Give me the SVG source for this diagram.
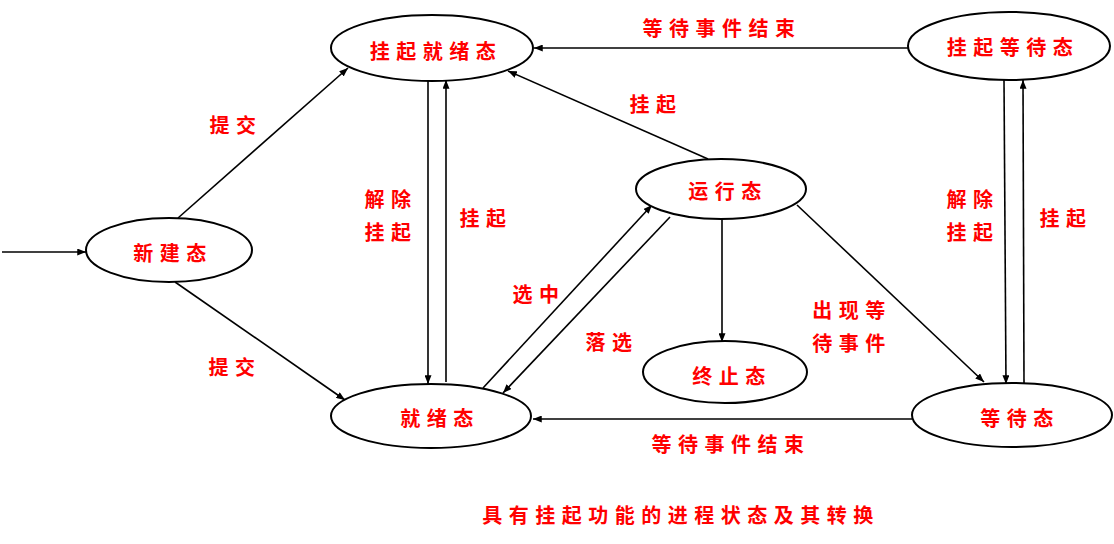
<svg xmlns="http://www.w3.org/2000/svg" width="1114" height="544" viewBox="0 0 1114 544">
<defs>
<marker id="ah" viewBox="0 0 10 8" refX="10" refY="4" markerWidth="9" markerHeight="7" markerUnits="userSpaceOnUse" orient="auto">
<path d="M0,0 L10,4 L0,8 Z" fill="#000"/>
</marker>
<style>
.node ellipse{fill:#fff;stroke:#000;stroke-width:2}
.lbl{font-family:"Noto Sans CJK SC","Noto Sans CJK JP",sans-serif;font-size:20px;font-weight:bold;fill:#ff0000;letter-spacing:6.5px;text-anchor:middle;dominant-baseline:central}
#connectors line{stroke:#000;stroke-width:1.6;fill:none;marker-end:url(#ah)}
</style>
</defs>
<rect width="1114" height="544" fill="#fff"/>
<g id="connectors">
<line x1="2" y1="252" x2="86" y2="252"/>
<line x1="178" y1="218" x2="348" y2="68"/>
<line x1="175" y1="282" x2="345" y2="400"/>
<line x1="428" y1="80" x2="428" y2="384"/>
<line x1="446" y1="382" x2="446" y2="80"/>
<line x1="483" y1="388" x2="652" y2="205"/>
<line x1="670" y1="217" x2="503" y2="393"/>
<line x1="708" y1="159" x2="508" y2="71"/>
<line x1="722" y1="219" x2="722" y2="342"/>
<line x1="797" y1="205" x2="984" y2="382"/>
<line x1="912" y1="419" x2="533" y2="419"/>
<line x1="908" y1="48" x2="534" y2="48"/>
<line x1="1004" y1="80" x2="1006" y2="384"/>
<line x1="1024" y1="383" x2="1023" y2="80"/>
</g>
<g id="n-guaqijiuxu" class="node"><ellipse cx="432" cy="48" rx="101" ry="33"/><text class="lbl" x="436" y="50">挂起就绪态</text></g>
<g id="n-guaqidengdai" class="node"><ellipse cx="1009" cy="46" rx="101" ry="34"/><text class="lbl" x="1013" y="46">挂起等待态</text></g>
<g id="n-xinjian" class="node"><ellipse cx="169" cy="250" rx="83" ry="32"/><text class="lbl" x="173" y="252">新建态</text></g>
<g id="n-yunxing" class="node"><ellipse cx="721" cy="189" rx="85" ry="30"/><text class="lbl" x="728" y="190">运行态</text></g>
<g id="n-zhongzhi" class="node"><ellipse cx="725" cy="372" rx="82" ry="31"/><text class="lbl" x="732" y="375">终止态</text></g>
<g id="n-jiuxu" class="node"><ellipse cx="431" cy="416" rx="100" ry="32"/><text class="lbl" x="440" y="417">就绪态</text></g>
<g id="n-dengdai" class="node"><ellipse cx="1012" cy="415" rx="100" ry="32"/><text class="lbl" x="1020" y="417">等待态</text></g>
<g id="labels">
<text class="lbl" x="236" y="124">提交</text>
<text class="lbl" x="235" y="366">提交</text>
<text class="lbl" x="391" y="198">解除</text>
<text class="lbl" x="391" y="231">挂起</text>
<text class="lbl" x="486" y="217">挂起</text>
<text class="lbl" x="656" y="103">挂起</text>
<text class="lbl" x="722" y="27">等待事件结束</text>
<text class="lbl" x="539" y="293">选中</text>
<text class="lbl" x="612" y="341">落选</text>
<text class="lbl" x="852" y="309">出现等</text>
<text class="lbl" x="852" y="342">待事件</text>
<text class="lbl" x="973" y="198">解除</text>
<text class="lbl" x="973" y="231">挂起</text>
<text class="lbl" x="1066" y="217">挂起</text>
<text class="lbl" x="731" y="443">等待事件结束</text>
<text class="lbl" x="681" y="514">具有挂起功能的进程状态及其转换</text>
</g>
</svg>
